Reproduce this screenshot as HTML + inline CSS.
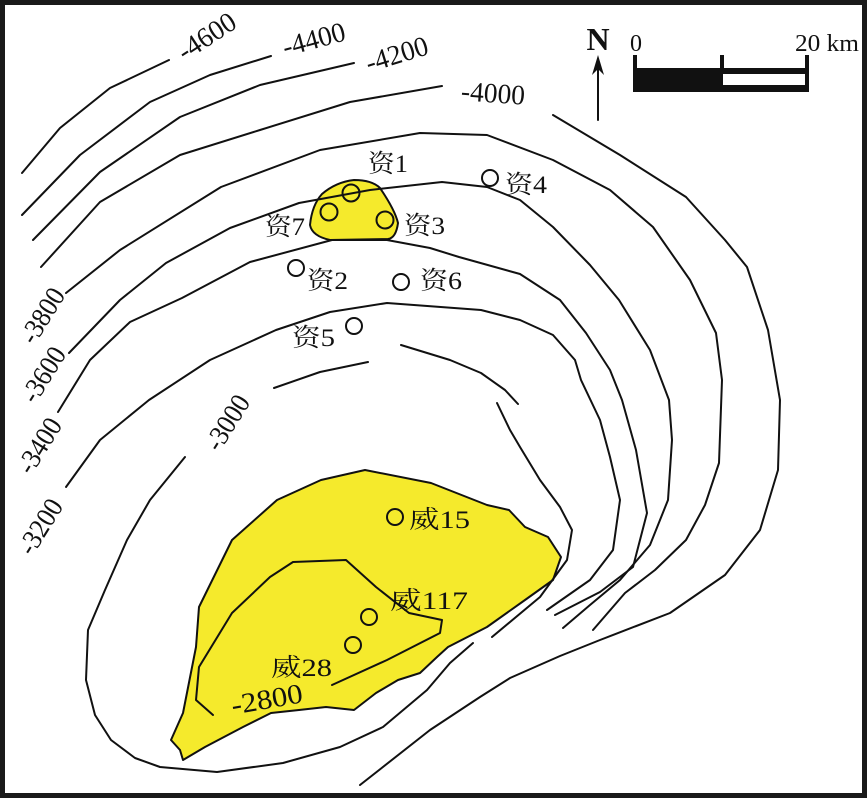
<!DOCTYPE html>
<html><head><meta charset="utf-8"><style>
html,body{margin:0;padding:0;background:#fff}
svg{display:block}
text{font-family:"Liberation Serif","Noto Serif CJK SC",serif;fill:#111}
</style></head><body>
<svg width="867" height="798" viewBox="0 0 867 798" xmlns="http://www.w3.org/2000/svg">
<rect x="2.5" y="2.5" width="862" height="793" fill="#fff" stroke="#1a1a1a" stroke-width="5"/>
<g fill="none" stroke="#111" stroke-width="2" stroke-linejoin="round" stroke-linecap="round">
<path d="M354,180 Q372,180 380,188 Q395,210 398,223 Q396,238 388,239 L330,240 Q312,236 310,225 Q312,205 322,194 Q336,182 354,180 Z" fill="#f5ea2c"/>
<path d="M365,470 L431,483 L487,505 L509,510 L525,527 L548,537 L561,557 L553,580 L525,600 L487,627 L448,647 L437,657 L420,673 L398,680 L376,693 L354,710 L326,707 L299,710 L271,713 L243,727 L205,747 L183,760 L180,750 L171,740 L183,713 L196,647 L199,607 L232,540 L277,500 L321,480 Z" fill="#f5ea2c"/>
<polyline points="22,173 60,128 110,88 169,60"/>
<polyline points="22,215 80,155 150,102 210,75 271,56"/>
<polyline points="33,240 100,172 180,117 260,85 354,63"/>
<polyline points="41,267 100,202 180,155 260,130 350,102 442,86"/>
<polyline points="553,115 620,155 686,197 725,240 747,267 768,330 780,400 778,470 760,530 725,575 670,613 600,640 560,656 510,678 480,697 430,730 360,785"/>
<polyline points="66,293 120,250 221,187 320,150 420,133 487,135 553,160 610,190 653,227 690,280 716,333 722,380 719,463 705,505 686,540 655,570 625,593 593,630"/>
<polyline points="69,353 120,300 166,263 230,228 299,203 370,190 442,182 487,187 520,200 553,227 590,265 619,300 650,350 669,400 672,440 668,500 650,545 620,580 590,605 563,628"/>
<polyline points="58,412 90,360 130,322 182,298 250,262 332,240 387,240 430,248 459,257 520,274 560,300 586,333 610,370 622,400 636,450 647,513 633,567 600,592 555,615"/>
<polyline points="66,487 100,440 149,400 210,360 276,330 330,312 387,303 481,310 520,320 553,335 575,360 581,380 600,420 610,457 620,500 613,550 590,580 547,610"/>
<polyline points="274,388 320,372 368,362"/>
<polyline points="401,345 450,360 481,373 505,390 518,404"/>
<polyline points="185,457 150,500 127,540 105,590 88,630 86,680 95,715 111,740 135,758 160,767 217,772 283,763 340,747 383,727 427,690 450,663 473,643"/>
<polyline points="497,403 510,430 520,447 540,480 560,507 572,530 567,560 540,597 492,637"/>
<polyline points="213,715 196,700 199,667 232,613 270,577 293,562 346,560 376,587 409,613 442,620 440,633 387,660 332,685"/>
<circle cx="351" cy="193" r="8.5"/>
<circle cx="329" cy="212" r="8.5"/>
<circle cx="385" cy="220" r="8.5"/>
<circle cx="490" cy="178" r="8"/>
<circle cx="296" cy="268" r="8"/>
<circle cx="401" cy="282" r="8"/>
<circle cx="354" cy="326" r="8"/>
<circle cx="395" cy="517" r="8"/>
<circle cx="369" cy="617" r="8"/>
<circle cx="353" cy="645" r="8"/>
<line x1="598" y1="120" x2="598" y2="62"/>
</g>
<path d="M598,55 L592,75 L598,69 L604,75 Z" fill="#111"/>
<text x="598" y="50" font-size="32" font-weight="bold" text-anchor="middle">N</text>
<rect x="633" y="68" width="176" height="24" fill="#111"/>
<rect x="723" y="74" width="82" height="11" fill="#fff"/>
<rect x="633" y="55" width="4" height="15" fill="#111"/>
<rect x="720" y="55" width="4" height="15" fill="#111"/>
<rect x="805" y="55" width="4" height="15" fill="#111"/>
<text x="636" y="51" font-size="24" text-anchor="middle">0</text>
<text x="795" y="51" font-size="24" textLength="64" lengthAdjust="spacingAndGlyphs">20 km</text>
<g font-size="28" text-anchor="middle" dominant-baseline="central">
<text transform="translate(207,37) rotate(-33)" textLength="64" lengthAdjust="spacingAndGlyphs">-4600</text>
<text transform="translate(314,40) rotate(-15)" textLength="64" lengthAdjust="spacingAndGlyphs">-4400</text>
<text transform="translate(397,55) rotate(-17)" textLength="64" lengthAdjust="spacingAndGlyphs">-4200</text>
<text transform="translate(493,94) rotate(4)" textLength="64" lengthAdjust="spacingAndGlyphs">-4000</text>
<text transform="translate(43,316) rotate(-58)" textLength="60" lengthAdjust="spacingAndGlyphs">-3800</text>
<text transform="translate(44,375) rotate(-58)" textLength="60" lengthAdjust="spacingAndGlyphs">-3600</text>
<text transform="translate(40,446) rotate(-58)" textLength="60" lengthAdjust="spacingAndGlyphs">-3400</text>
<text transform="translate(41,527) rotate(-58)" textLength="60" lengthAdjust="spacingAndGlyphs">-3200</text>
<text transform="translate(228,423) rotate(-58)" textLength="60" lengthAdjust="spacingAndGlyphs">-3000</text>
<text transform="translate(267,700) rotate(-10)" textLength="72" lengthAdjust="spacingAndGlyphs">-2800</text>
</g>
<g font-size="25">
<text x="368" y="172" textLength="40" lengthAdjust="spacingAndGlyphs">资1</text>
<text x="265" y="235" textLength="40" lengthAdjust="spacingAndGlyphs">资7</text>
<text x="404" y="234" textLength="41" lengthAdjust="spacingAndGlyphs">资3</text>
<text x="505" y="193" textLength="42" lengthAdjust="spacingAndGlyphs">资4</text>
<text x="307" y="289" textLength="41" lengthAdjust="spacingAndGlyphs">资2</text>
<text x="420" y="289" textLength="42" lengthAdjust="spacingAndGlyphs">资6</text>
<text x="292" y="346" textLength="43" lengthAdjust="spacingAndGlyphs">资5</text>
<text x="409" y="528" textLength="61" lengthAdjust="spacingAndGlyphs">威15</text>
<text x="390" y="609" textLength="78" lengthAdjust="spacingAndGlyphs">威117</text>
<text x="271" y="676" textLength="61" lengthAdjust="spacingAndGlyphs">威28</text>
</g>
</svg>
</body></html>
